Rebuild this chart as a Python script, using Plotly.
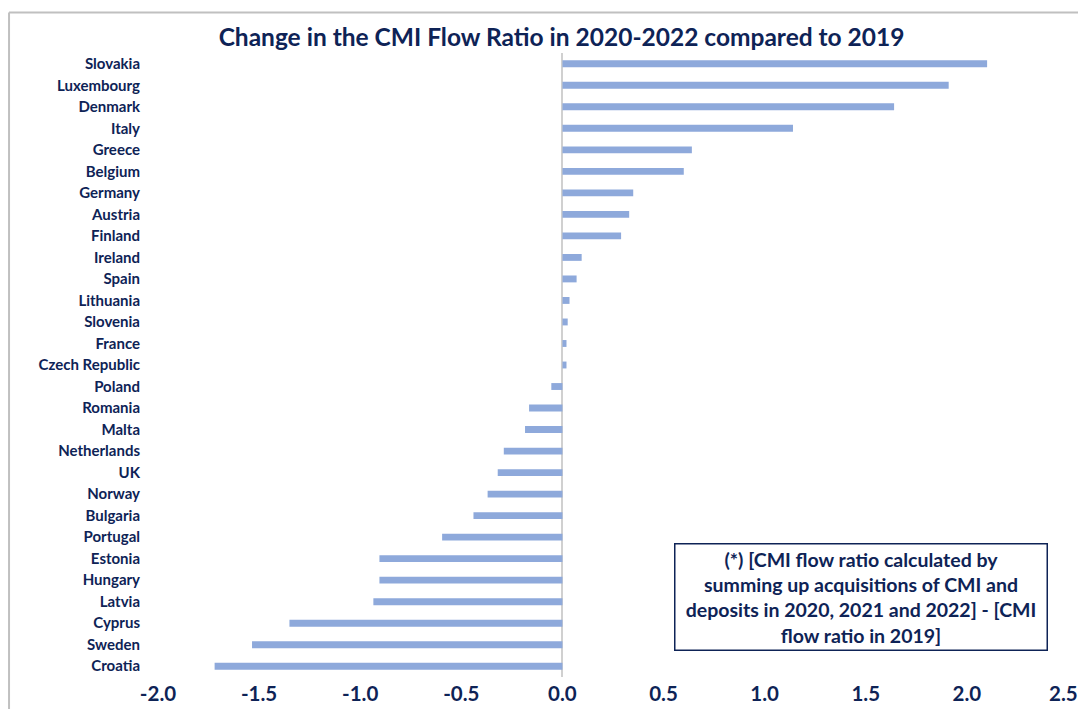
import plotly.graph_objects as go

# Countries listed top to bottom as in the chart
countries = [
    "Slovakia", "Luxembourg", "Denmark", "Italy", "Greece", "Belgium", "Germany",
    "Austria", "Finland", "Ireland", "Spain", "Lithuania", "Slovenia", "France",
    "Czech Republic", "Poland", "Romania", "Malta", "Netherlands", "UK", "Norway",
    "Bulgaria", "Portugal", "Estonia", "Hungary", "Latvia", "Cyprus", "Sweden", "Croatia",
]
change = [
    2.10, 1.91, 1.64, 1.14, 0.64, 0.60, 0.35,
    0.33, 0.29, 0.095, 0.07, 0.035, 0.026, 0.02,
    0.02, -0.055, -0.165, -0.185, -0.29, -0.32, -0.37,
    -0.44, -0.595, -0.905, -0.905, -0.935, -1.35, -1.535, -1.72,
]
x_ticks = [-2.0, -1.5, -1.0, -0.5, 0.0, 0.5, 1.0, 1.5, 2.0, 2.5]

title = "Change in the CMI Flow Ratio in 2020-2022 compared to 2019"
note = ("(*) [CMI flow ratio calculated by<br>summing up acquisitions of CMI and<br>"
        "deposits in 2020, 2021 and 2022] - [CMI<br>flow ratio in 2019]")

NAVY = "#0E2356"
FONT = "Lato"
TICK_SIZE = 20.5

fig = go.Figure(go.Bar(
    x=change, y=countries, orientation="h",
    marker=dict(color="#8EA9DB", line=dict(width=0)),
))

# page body has an 8px margin, so the figure is sized to fit inside it
fig.update_layout(
    width=1078, height=701,
    margin=dict(l=150, r=18, t=45, b=32, autoexpand=False),
    plot_bgcolor="white", paper_bgcolor="white",
    bargap=0.68, showlegend=False,
    font=dict(family=FONT, color=NAVY),
    title=dict(text=f"<b>{title}</b>", x=0.5135, xanchor="center",
               y=1 - 29 / 701, yanchor="middle", yref="container",
               font=dict(family=FONT, size=24.5, color=NAVY)),
)
# last tick label sits at the window edge, so it is drawn as an annotation nudged inside
tick_text = [f"<b>{v:.1f}</b>" for v in x_ticks[:-1]] + [""]
fig.update_xaxes(
    range=[x_ticks[0], x_ticks[-1]], tickvals=x_ticks, ticktext=tick_text,
    showgrid=False, zeroline=True, zerolinecolor="#D0D0D0", zerolinewidth=1.5,
    showline=False, automargin=False,
    tickfont=dict(size=TICK_SIZE, color=NAVY), ticklabelstandoff=2,
)
fig.add_annotation(
    xref="x", yref="paper", x=x_ticks[-1], y=0, xanchor="center", yanchor="top",
    xshift=-5, yshift=-2, showarrow=False,
    text=f"<b>{x_ticks[-1]:.1f}</b>", font=dict(family=FONT, size=TICK_SIZE, color=NAVY),
)
fig.update_yaxes(
    autorange="reversed", showgrid=False, showline=False, automargin=False,
    tickvals=countries, ticktext=[f"<b>{c}</b>" for c in countries],
    tickfont=dict(size=15, color=NAVY), ticklabelstandoff=17,
)

fig.add_annotation(
    xref="paper", yref="paper", x=0.7725, y=0.129, xanchor="center", yanchor="middle",
    text=f"<b>{note}</b>", showarrow=False, align="center",
    font=dict(family=FONT, size=19.5, color=NAVY),
    bordercolor=NAVY, borderwidth=1.5, borderpad=3, bgcolor="white",
    width=365,
)

# outer chart frame: top and left edges only are visible
fig.add_shape(type="line", xref="paper", yref="paper",
              x0=-0.1637, x1=1.02, y0=1.0649, y1=1.0649,
              line=dict(color="#C0C0C0", width=2))
fig.add_shape(type="line", xref="paper", yref="paper",
              x0=-0.1637, x1=-0.1637, y0=1.0649, y1=-0.06,
              line=dict(color="#C0C0C0", width=2))

fig.write_html("out.html")
